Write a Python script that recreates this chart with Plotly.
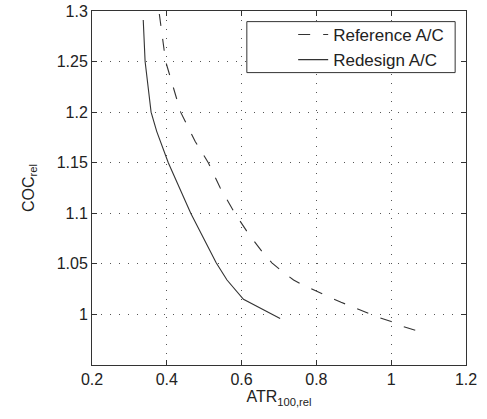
import plotly.graph_objects as go

# Reference A/C (dashed)
ref_atr = [0.380, 0.397, 0.437, 0.476, 0.511, 0.543, 0.582, 0.618, 0.659, 0.681,
           0.710, 0.739, 0.770, 0.800, 0.835, 0.866, 0.900, 0.933, 0.967, 1.000,
           1.033, 1.067]
ref_coc = [1.297, 1.250, 1.200, 1.171, 1.150, 1.125, 1.100, 1.080, 1.060, 1.051,
           1.042, 1.034, 1.028, 1.023, 1.017, 1.012, 1.007, 1.002, 0.997, 0.993,
           0.988, 0.984]

# Redesign A/C (solid)
red_atr = [0.337, 0.342, 0.358, 0.373, 0.404, 0.464, 0.532, 0.561, 0.605, 0.703]
red_coc = [1.291, 1.250, 1.200, 1.181, 1.150, 1.100, 1.051, 1.034, 1.015, 0.996]

x_ticks = [0.2, 0.4, 0.6, 0.8, 1.0, 1.2]
x_labels = ["0.2", "0.4", "0.6", "0.8", "1", "1.2"]
y_ticks = [1.0, 1.05, 1.1, 1.15, 1.2, 1.25, 1.3]
y_labels = ["1", "1.05", "1.1", "1.15", "1.2", "1.25", "1.3"]

font_family = "Liberation Sans, Arial, sans-serif"

fig = go.Figure()
fig.add_trace(go.Scatter(
    x=ref_atr, y=ref_coc, mode="lines", name="Reference A/C",
    line=dict(color="#333333", width=1.1, dash="12px,13px"),
))
fig.add_trace(go.Scatter(
    x=red_atr, y=red_coc, mode="lines", name="Redesign A/C",
    line=dict(color="#333333", width=1.1),
))

axis_common = dict(
    showline=True, linecolor="#333333", linewidth=1, mirror="ticks",
    ticks="inside", ticklen=5, tickcolor="#333333",
    showgrid=True, gridcolor="#555555", gridwidth=1, griddash="1px,8px",
    zeroline=False, automargin=False,
    tickfont=dict(family=font_family, size=16, color="#222222"),
)

fig.update_xaxes(
    range=[0.2, 1.2], tickvals=x_ticks, ticktext=x_labels,
    title=dict(text="ATR<sub>100,rel</sub>", standoff=3,
               font=dict(family=font_family, size=16, color="#222222")),
    **axis_common,
)
fig.update_yaxes(
    range=[0.95, 1.3], tickvals=y_ticks, ticktext=y_labels,
    title=dict(text="COC<sub>rel</sub>", standoff=18,
               font=dict(family=font_family, size=16, color="#222222")),
    **axis_common,
)

# legend frame (drawn as a paper-space box so it matches the reference width)
fig.add_shape(
    type="rect", xref="paper", yref="paper",
    x0=0.414, x1=0.971, y0=0.826, y1=0.970,
    line=dict(color="#333333", width=1), fillcolor="white", layer="above",
)

fig.update_layout(
    width=487, height=419,
    margin=dict(l=92, r=21, t=11, b=54, pad=0),
    paper_bgcolor="white", plot_bgcolor="white",
    showlegend=True,
    legend=dict(
        x=0.955, y=0.983, xanchor="right", yanchor="top",
        bgcolor="rgba(0,0,0,0)", borderwidth=0,
        font=dict(family=font_family, size=17, color="#222222"),
        tracegroupgap=0,
    ),
)

fig.write_html(
    "out.html",
    config={"displayModeBar": False},
    post_script="document.body.style.margin='0';document.body.style.overflow='hidden';",
)
